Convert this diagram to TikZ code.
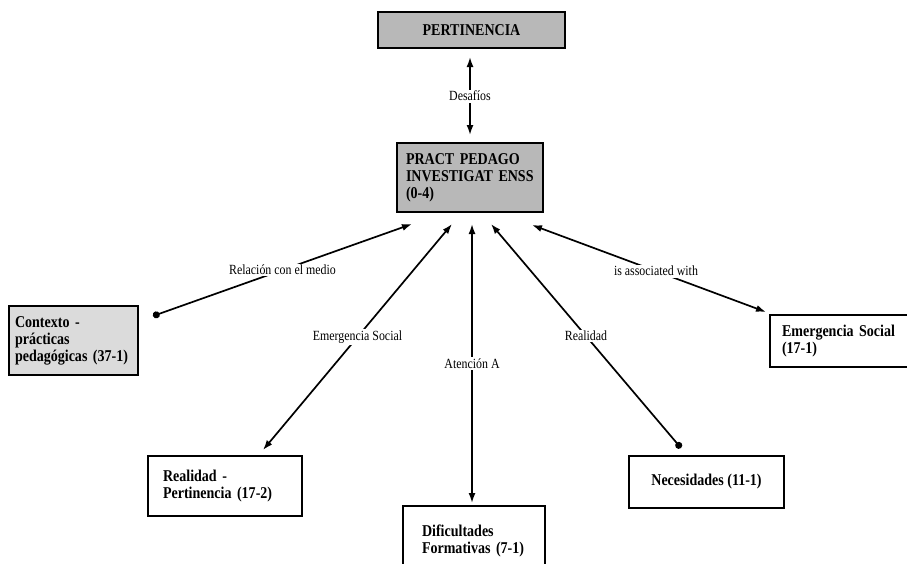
\documentclass[tikz,border=0pt]{standalone}
\usepackage{fontspec}
\setmainfont{Liberation Serif}
\newfontfamily\condfont[FakeStretch=0.85]{Liberation Serif}
\usetikzlibrary{arrows.meta}
\definecolor{darkfill}{gray}{0.72}
\definecolor{lightfill}{gray}{0.86}
\begin{document}
\begin{tikzpicture}[x=1pt,y=-1pt,
  box/.style={draw=black, line width=2.8pt, align=left, inner ysep=0pt,
    font=\condfont\bfseries\fontsize{16.5}{17}\selectfont},
  lbl/.style={fill=white, inner sep=1.5pt, font=\condfont\fontsize{14}{16}\selectfont},
  conn/.style={line width=1.7pt},
]
\useasboundingbox (0,0) rectangle (907,563);

% boxes
\node[box, fill=darkfill, align=center, minimum width=187pt, minimum height=36pt] (pert) at (471.5,30) {PERTINENCIA};
\node[box, fill=darkfill, inner xsep=9pt, text width=128pt, minimum height=69pt] (pract) at (470,177.5)
  {PRACT PEDAGO\\INVESTIGAT ENSS\\(0-4)};
\node[box, fill=lightfill, inner xsep=6pt, text width=117pt, minimum height=69pt] (ctx) at (73.5,340.5)
  {Contexto -\\prácticas\\pedagógicas (37-1)};
\node[box, fill=white, inner xsep=12pt, text width=116pt, minimum height=52pt] (emsoc) at (840,341)
  {Emergencia Social\\(17-1)};
\node[box, fill=white, inner xsep=15pt, text width=124pt, minimum height=60pt] (realp) at (225,486)
  {Realidad -\\Pertinencia (17-2)};
\node[box, fill=white, inner xsep=19pt, text width=104pt, minimum height=70pt] (dific) at (474,541)
  {Dificultades\\Formativas (7-1)\\[8pt]};
\node[box, fill=white, align=center, minimum width=155pt, minimum height=52pt] (neces) at (706.5,482)
  {Necesidades (11-1)};

% connector end points
\coordinate (dU) at (470,57);
\coordinate (dD) at (470,135);
\coordinate (p1) at (412,224);
\coordinate (p2) at (452,224);
\coordinate (p3) at (472,224);
\coordinate (p4) at (491,224);
\coordinate (p5) at (532,225);
\coordinate (c1) at (153,316);
\coordinate (c2) at (263,450);
\coordinate (c3) at (472,503);
\coordinate (c4) at (681,448);
\coordinate (c5) at (766,312);

\tikzset{>={Latex[length=10pt,width=7pt]}}
\draw[conn,<->] (dU) -- node[lbl] (l0) {Desafíos} (dD);
\draw[conn,{Circle[length=7pt]}->] (c1) -- node[lbl] (l1) {Relación con el medio} (p1);
\draw[conn,<->] (p2) -- node[lbl] (l2) {Emergencia Social} (c2);
\draw[conn,<->] (p3) -- node[lbl] (l3) {Atención A} (c3);
\draw[conn,{Circle[length=7pt]}->] (c4) -- node[lbl] (l4) {Realidad} (p4);
\draw[conn,<->] (p5) -- node[lbl,pos=0.53] (l5) {is associated with} (c5);
\end{tikzpicture}
\end{document}
